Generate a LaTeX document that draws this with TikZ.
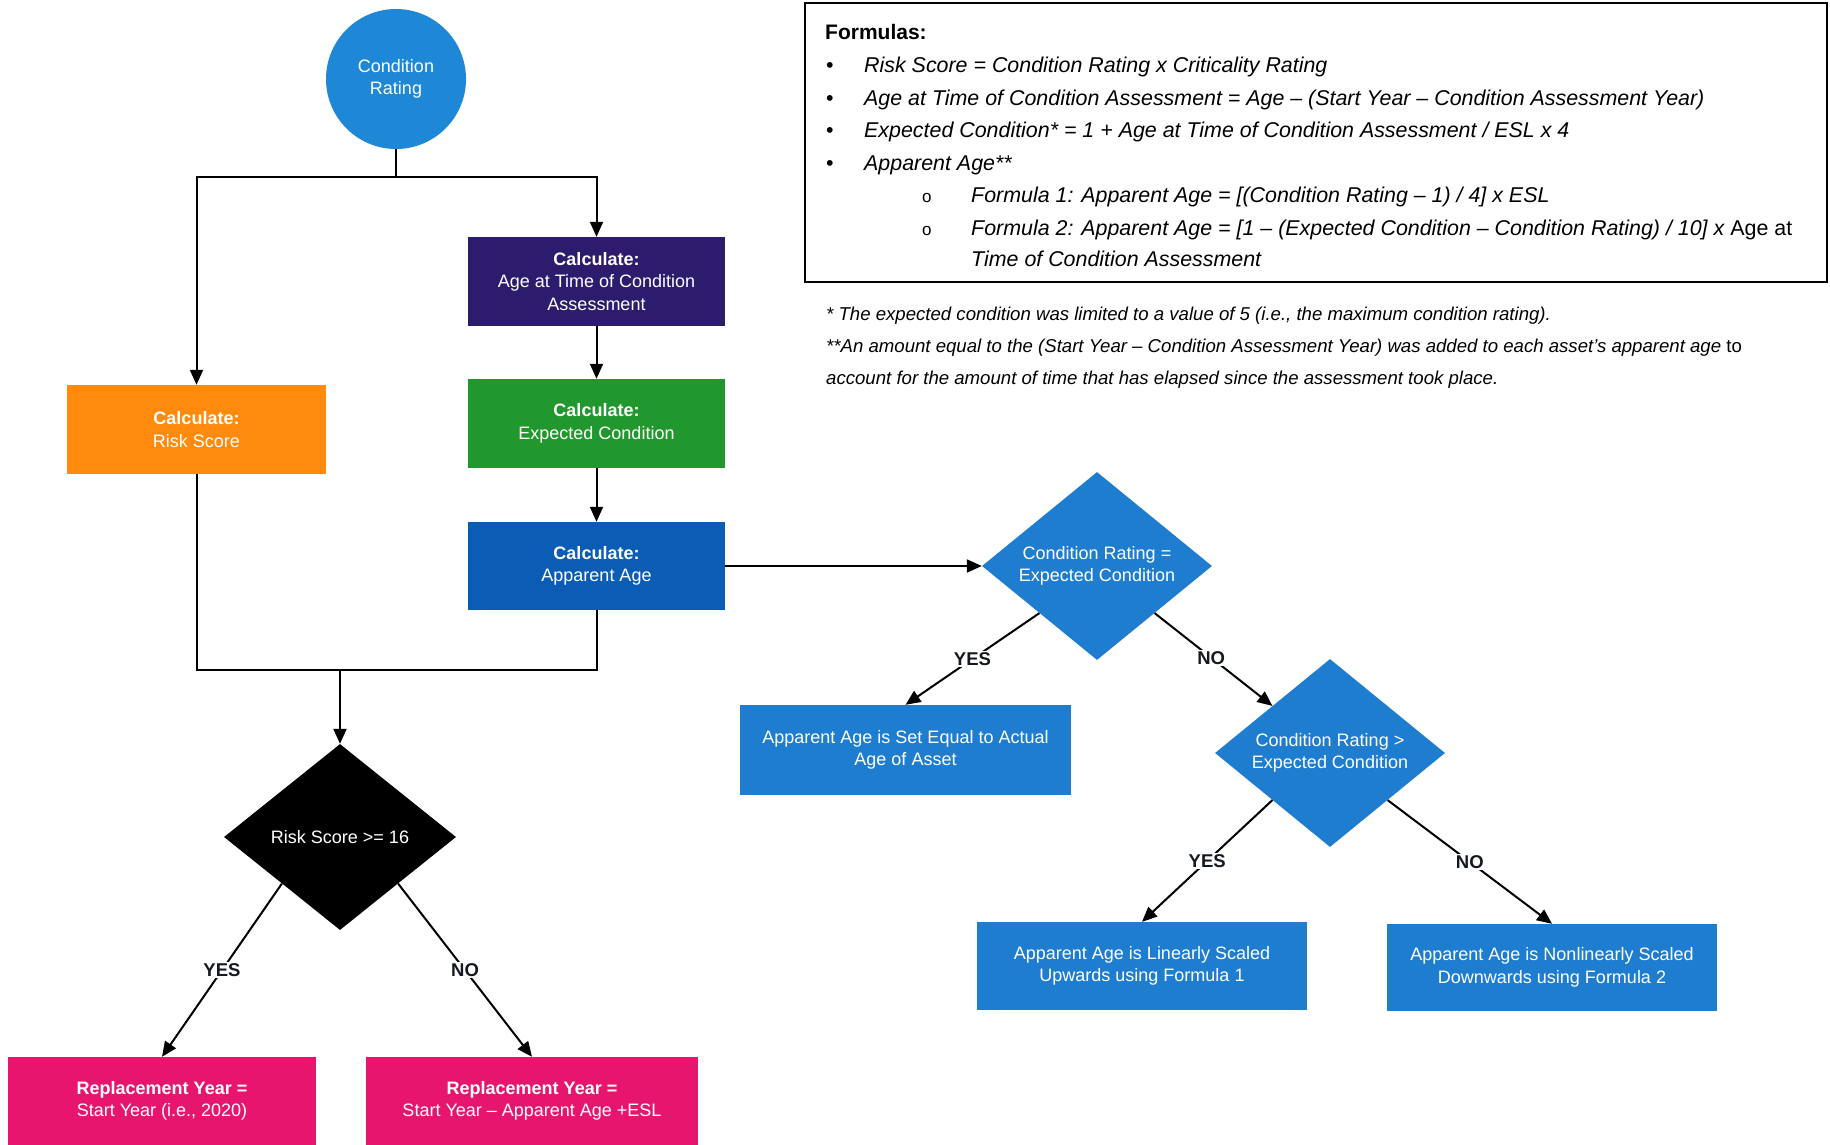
\documentclass[tikz,border=0pt]{standalone}
\usepackage{fontspec}
\setmainfont{Liberation Sans}
\usetikzlibrary{shapes.geometric,arrows.meta}

\definecolor{crblue}{HTML}{1E88D6}
\definecolor{agepurple}{HTML}{2D1B6E}
\definecolor{riskorange}{HTML}{FF8A0C}
\definecolor{expgreen}{HTML}{21982D}
\definecolor{appblue}{HTML}{0B5CB5}
\definecolor{decblue}{HTML}{1F7DD0}
\definecolor{replpink}{HTML}{E8156F}
\definecolor{labelink}{HTML}{141820}

\newcommand{\dgmfont}{\fontsize{18}{22.5}\selectfont}
\newcommand{\frmfont}{\fontsize{21.4}{25}\selectfont}
\newcommand{\ftnfont}{\fontsize{18.6}{22}\selectfont}

\tikzset{
  box/.style={rectangle, text=white, align=center, font=\dgmfont, inner sep=2pt},
  dec/.style={diamond, aspect=1.22, inner sep=0pt, text=white, align=center,
              font=\dgmfont, minimum width=230pt, minimum height=188pt},
  arr/.style={-{Triangle[length=15pt,width=13pt]}, line width=2pt},
  link/.style={line width=2pt},
  lbl/.style={fill=white, inner sep=1.5pt, text=labelink,
              font=\bfseries\fontsize{18.5}{18.5}\selectfont},
  frm/.style={anchor=base west, inner sep=0pt, font=\frmfont\itshape},
  ftn/.style={anchor=base west, inner sep=0pt, font=\ftnfont\itshape},
  dot/.style={anchor=base west, inner sep=0pt, font=\frmfont}
}

\begin{document}
\begin{tikzpicture}[x=1pt,y=-1pt]
\useasboundingbox (0,0) rectangle (1830,1145);
\fill[white] (0,0) rectangle (1830,1145);

% ---- formula panel ----
\draw[line width=2pt] (805,3) rectangle (1827,282);
\node[anchor=base west, inner sep=0pt, font=\fontsize{21}{24}\selectfont\bfseries] (fhead) at (825,40) {Formulas:};
\node[dot] (b1) at (826,73) {\textbullet};
\node[frm] (f1) at (864,73) {Risk Score = Condition Rating x Criticality Rating};
\node[dot] (b2) at (826,105.5) {\textbullet};
\node[frm] (f2) at (864,105.5) {Age at Time of Condition Assessment = Age – (Start Year – Condition Assessment Year)};
\node[dot] (b3) at (826,137.5) {\textbullet};
\node[frm] (f3) at (864,137.5) {Expected Condition* = 1 + Age at Time of Condition Assessment / ESL x 4};
\node[dot] (b4) at (826,170) {\textbullet};
\node[frm] (f4) at (864,170) {Apparent Age**};
\node[anchor=base west, inner sep=0pt, font=\fontsize{17}{20}\selectfont] (s1) at (922,202.5) {o};
\node[frm] (f5) at (971,202.5) {Formula 1: Apparent Age = [(Condition Rating – 1) / 4] x ESL};
\node[anchor=base west, inner sep=0pt, font=\fontsize{17}{20}\selectfont] (s2) at (922,235) {o};
\node[frm] (f6) at (971,235) {Formula 2: Apparent Age = [1 – (Expected Condition – Condition Rating) / 10] x \upshape Age at};
\node[frm] (f7) at (971,266.5) {Time of Condition Assessment};

% ---- footnotes ----
\node[ftn] (n1) at (826,320) {* The expected condition was limited to a value of 5 (i.e., the maximum condition rating).};
\node[ftn] (n2) at (826,352.5) {**An amount equal to the (Start Year – Condition Assessment Year) was added to each asset’s apparent age \upshape to};
\node[ftn] (n3) at (826,384.5) {account for the amount of time that has elapsed since the assessment took place.};

% ---- flow chart nodes ----
\node[circle, fill=crblue, text=white, align=center, font=\dgmfont, minimum size=140pt, inner sep=0pt]
  (cr) at (396,79) {Condition\\Rating};

\node[box, fill=riskorange, minimum width=259pt, minimum height=89pt] (risk) at (196.5,429.5)
  {\textbf{Calculate:}\\Risk Score};
\node[box, fill=agepurple, minimum width=257pt, minimum height=89pt] (age) at (596.5,281.5)
  {\textbf{Calculate:}\\Age at Time of Condition\\Assessment};
\node[box, fill=expgreen, minimum width=257pt, minimum height=89pt] (exp) at (596.5,423.5)
  {\textbf{Calculate:}\\Expected Condition};
\node[box, fill=appblue, minimum width=257pt, minimum height=88pt] (app) at (596.5,566)
  {\textbf{Calculate:}\\Apparent Age};

\node[dec, fill=decblue] (d1) at (1097,566) {Condition Rating =\\Expected Condition};
\node[box, fill=decblue, minimum width=331pt, minimum height=90pt] (seteq) at (905.5,750)
  {Apparent Age is Set Equal to Actual\\Age of Asset};
\node[dec, fill=decblue] (d2) at (1330,753) {Condition Rating >\\Expected Condition};
\node[box, fill=decblue, minimum width=330pt, minimum height=88pt] (lin) at (1142,966)
  {Apparent Age is Linearly Scaled\\Upwards using Formula 1};
\node[box, fill=decblue, minimum width=330pt, minimum height=87pt] (nonlin) at (1552,967.5)
  {Apparent Age is Nonlinearly Scaled\\Downwards using Formula 2};

\node[dec, fill=black, minimum width=232pt, minimum height=186pt] (rs) at (340,837) {Risk Score >= 16};
\node[box, fill=replpink, minimum width=308pt, minimum height=88pt] (replA) at (162,1101)
  {\textbf{Replacement Year =}\\Start Year (i.e., 2020)};
\node[box, fill=replpink, minimum width=332pt, minimum height=88pt] (replB) at (532,1101)
  {\textbf{Replacement Year =}\\Start Year – Apparent Age +ESL};

% ---- connectors ----
\coordinate (split) at (396,177);
\draw[link] (cr.south) -- (split);
\draw[arr] (split) -| (risk.north);
\draw[arr] (split) -| (age.north);
\draw[arr] (age.south) -- (exp.north);
\draw[arr] (exp.south) -- (app.north);
\draw[arr] (app.east) -- (d1.west);

\coordinate (join) at (340,670);
\draw[link] (risk.south) |- (app.south |- join) -- (app.south);
\draw[arr] (join) -- (rs.north);

\draw[arr] (d1.south west) -- node[lbl] {YES} (seteq.north);
\draw[arr] (d1.south east) -- node[lbl, pos=0.48] {NO} (d2.north west);
\draw[arr] (d2.south west) -- node[lbl] {YES} (lin.north);
\draw[arr] (d2.south east) -- node[lbl, pos=0.5] {NO} (nonlin.north);
\draw[arr] (rs.south west) -- node[lbl] {YES} (replA.north);
\draw[arr] (rs.south east) -- node[lbl] {NO} (replB.north);
\end{tikzpicture}
\end{document}
